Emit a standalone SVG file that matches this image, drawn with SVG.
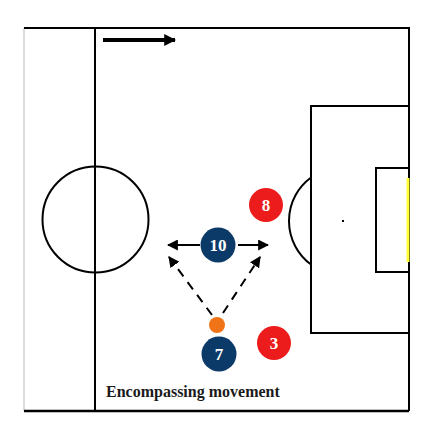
<svg xmlns="http://www.w3.org/2000/svg" width="433" height="422" viewBox="0 0 433 422">
<style>
.ln{fill:none;stroke:#000;stroke-width:2}
.red{fill:#ec1c1c}
.blue{fill:#0c3a68}
.num{font-family:"Liberation Serif",serif;font-weight:bold;font-size:17px;fill:#fff;text-anchor:middle}
.arr{stroke:#000;stroke-width:2;fill:none;marker-end:url(#ah)}
.dash{stroke:#000;stroke-width:2;fill:none;stroke-dasharray:9,7;marker-end:url(#ah)}
</style>
<defs>
<marker id="ah" viewBox="0 0 10 10" refX="9" refY="5" markerWidth="5.5" markerHeight="5.5" orient="auto" markerUnits="strokeWidth">
<path d="M0,0 L10,5 L0,10 z" fill="#000"/>
</marker>
<marker id="bh" viewBox="0 0 10 10" refX="9" refY="5" markerWidth="3" markerHeight="3" orient="auto" markerUnits="strokeWidth">
<path d="M0,0 L10,5 L0,10 z" fill="#000"/>
</marker>
</defs>
<rect width="433" height="422" fill="#fff"/>
<g id="pitch">
<line x1="24" y1="28" x2="24" y2="411" stroke="#d0d0d0" stroke-width="1.5"/>
<polyline class="ln" points="24,28 409,28 409,411"/>
<line x1="24" y1="411" x2="409" y2="411" stroke="#000" stroke-width="2.5"/>
<line class="ln" x1="95" y1="28" x2="95" y2="411"/>
<circle class="ln" cx="95.5" cy="219.5" r="53"/>
<polyline class="ln" points="409,106 311,106 311,333 409,333"/>
<polyline class="ln" points="409,168 376,168 376,272 409,272"/>
<line x1="408" y1="178" x2="408" y2="262" stroke="#ffff33" stroke-width="3"/>
<path class="ln" d="M311,177.5 A54,54 0 0 0 311,264.5"/>
<rect x="342" y="220" width="2" height="2" fill="#000"/>
<line x1="103" y1="40" x2="175" y2="40" stroke="#000" stroke-width="4" marker-end="url(#bh)"/>
</g>
<g id="connectors">
<line class="arr" x1="200" y1="245" x2="168" y2="245"/>
<line class="arr" x1="238" y1="245" x2="268" y2="245"/>
<line class="dash" x1="212" y1="315" x2="169" y2="257"/>
<line class="dash" x1="223" y1="313" x2="260" y2="257"/>
</g>
<g id="p8"><circle class="red" cx="266" cy="205" r="17"/><text class="num" x="266" y="211">8</text></g>
<g id="p10"><circle class="blue" cx="218" cy="245" r="17.5"/><text class="num" x="218" y="251">10</text></g>
<g id="ball"><circle cx="217" cy="325" r="8" fill="#f07318"/></g>
<g id="p7"><circle class="blue" cx="219" cy="354" r="17.5"/><text class="num" x="219" y="360">7</text></g>
<g id="p3"><circle class="red" cx="274" cy="343" r="17"/><text class="num" x="274" y="349">3</text></g>
<text x="106" y="397" font-family="Liberation Serif,serif" font-weight="bold" font-size="16" fill="#1a1a1a">Encompassing movement</text>
</svg>
